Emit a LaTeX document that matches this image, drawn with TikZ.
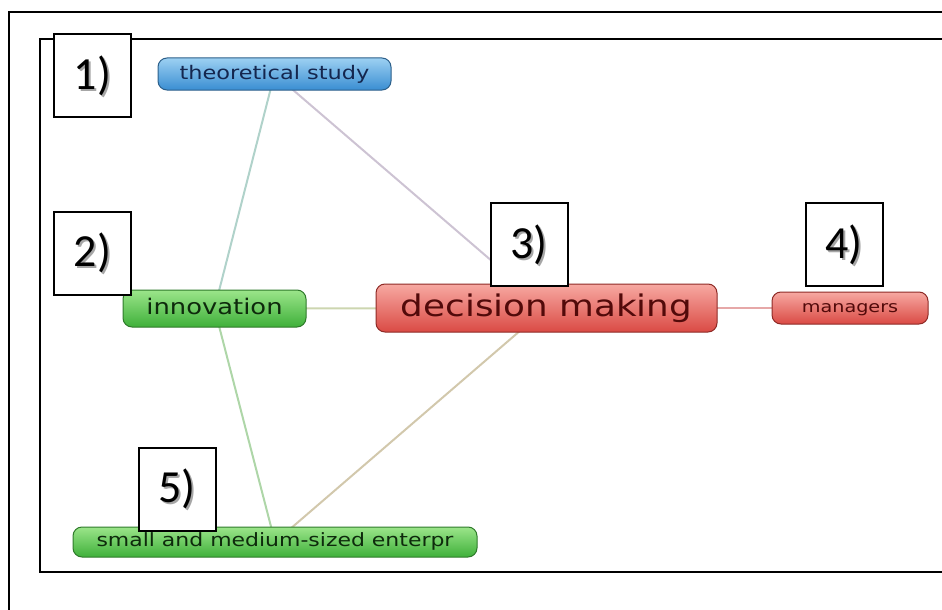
\documentclass[tikz,border=0pt]{standalone}
\usepackage{fontspec}
\newfontfamily\mapfont[FakeStretch=1.2]{DejaVu Sans}
\newfontfamily\numfont{Carlito}
\usetikzlibrary{calc,backgrounds}

\definecolor{bluetop}{HTML}{9CD0F2}
\definecolor{bluebot}{HTML}{3A8ED2}
\definecolor{blueline}{HTML}{2C5F8A}
\definecolor{bluetext}{HTML}{14264E}
\definecolor{greentop}{HTML}{9BE58A}
\definecolor{greenbot}{HTML}{3FB03A}
\definecolor{greenline}{HTML}{2E7A2A}
\definecolor{greentext}{HTML}{0E2A0C}
\definecolor{redtop}{HTML}{F7A9A2}
\definecolor{redbot}{HTML}{DA4A44}
\definecolor{redline}{HTML}{8E2A26}
\definecolor{redtext}{HTML}{520A0A}
\definecolor{linkTI}{HTML}{B0D2CA}
\definecolor{linkTD}{HTML}{CDC3D3}
\definecolor{linkID}{HTML}{CDD6B0}
\definecolor{linkIS}{HTML}{AED6A8}
\definecolor{linkDS}{HTML}{D2C8AC}
\definecolor{linkDM}{HTML}{E6A8A8}

\tikzset{
  topic/.style={rounded corners=9pt, inner sep=0pt, line width=1pt, align=center},
  bluetopic/.style={topic, top color=bluetop, bottom color=bluebot, draw=blueline, text=bluetext},
  greentopic/.style={topic, top color=greentop, bottom color=greenbot, draw=greenline, text=greentext},
  redtopic/.style={topic, top color=redtop, bottom color=redbot, draw=redline, text=redtext},
  topicsize/.style={font=\mapfont\fontsize{#1}{#1}\selectfont,
                    text height={0.74*#1pt}, text depth={0.2*#1pt}},
  link/.style={line width=2pt},
  tagbox/.style={draw=black, fill=white, line width=2pt, minimum width=77pt, minimum height=83pt, inner sep=0pt},
  frameline/.style={line width=2pt, black},
}

% numbered tag with a soft grey shadow behind the figure
\newcommand{\tagtext}[1]{{\numfont\fontsize{46}{50}\selectfont #1}}
\newcommand{\tagat}[3]{%
  \node[tagbox] (#1) at (#2) {};
  \node[text=black!35] at ($(#1.center)+(2,2)$) {\tagtext{#3}};
  \node[text=black] at (#1.center) {\tagtext{#3}};
}

\begin{document}
\begin{tikzpicture}[x=1pt, y=-1pt]
\useasboundingbox (0,0) rectangle (942,610);

% frames
\draw[frameline] (942,12) -- (9,12) -- (9,610);
\draw[frameline, line width=2.5pt] (942,39) -- (40,39) -- (40,572) -- (942,572);

% topics
\node[bluetopic, topicsize=18.7, minimum width=233pt, minimum height=32pt] (theory) at (274.5,74)
  {theoretical study};
\node[greentopic, topicsize=21.5, minimum width=183pt, minimum height=37pt] (innov) at (214.5,308.5)
  {innovation};
\node[redtopic, topicsize=29.8, minimum width=341pt, minimum height=48pt] (decide) at (546.5,308)
  {decision making};
\node[redtopic, topicsize=16, minimum width=156pt, minimum height=32pt] (mgr) at (850,308)
  {managers};
\node[greentopic, topicsize=18.3, minimum width=404pt, minimum height=30pt] (sme) at (275,542)
  {small and medium-sized enterpr};

% links run between topic centres, behind the topics
\begin{scope}[on background layer]
  \draw[link, linkTI] (theory.center) -- (innov.center);
  \draw[link, linkTD] (theory.center) -- (decide.center);
  \draw[link, linkID] (innov.center) -- (decide.center);
  \draw[link, linkIS] (innov.center) -- (sme.center);
  \draw[link, linkDS] (decide.center) -- (sme.center);
  \draw[link, linkDM] (decide.center) -- (mgr.center);
\end{scope}

% numbered tags
\tagat{tagA}{92.5,75.5}{1)}
\tagat{tagB}{92.5,253}{2)}
\tagat{tagC}{529,244.5}{3)}
\tagat{tagD}{844,244.5}{4)}
\tagat{tagE}{177,489}{5)}

\end{tikzpicture}
\end{document}
